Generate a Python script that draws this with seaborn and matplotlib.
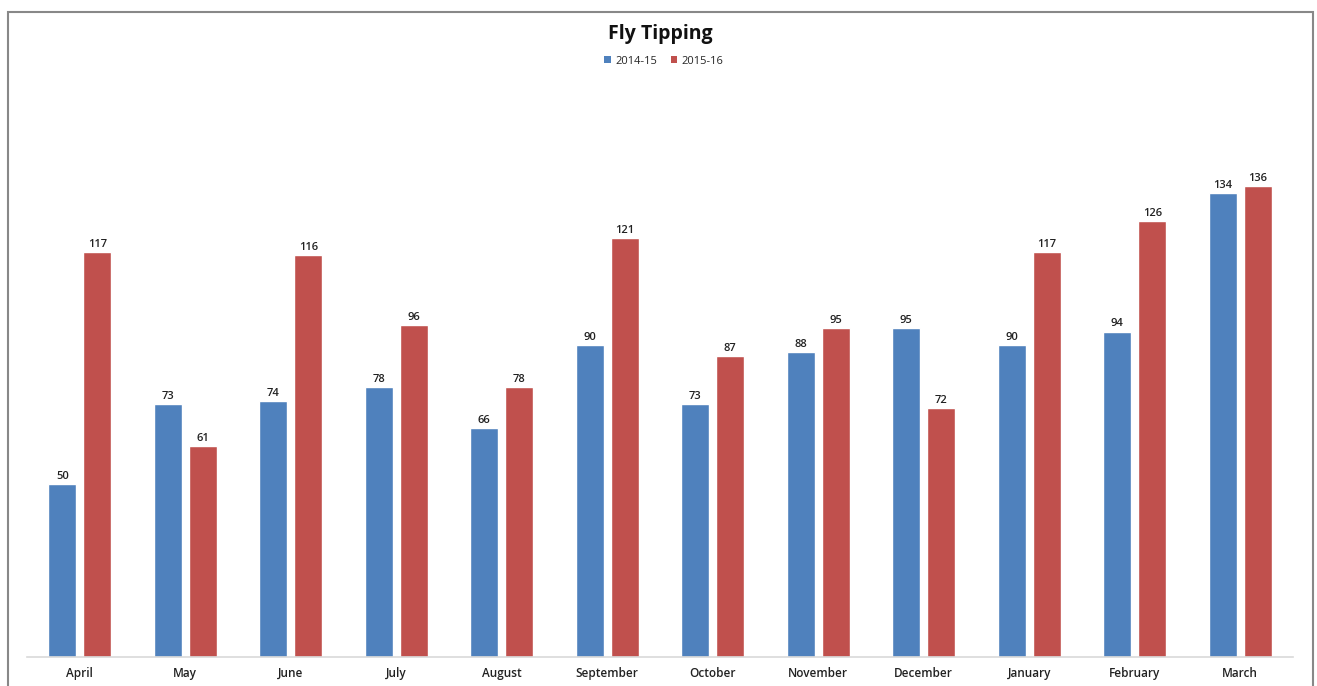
import matplotlib
matplotlib.use("Agg")
import matplotlib.pyplot as plt
import seaborn as sns
import pandas as pd
from matplotlib.patches import Rectangle, Patch

months = ["April", "May", "June", "July", "August", "September", "October",
          "November", "December", "January", "February", "March"]
series_names = ["2014-15", "2015-16"]
values_2014_15 = [50, 73, 74, 78, 66, 90, 73, 88, 95, 90, 94, 134]
values_2015_16 = [117, 61, 116, 96, 78, 121, 87, 95, 72, 117, 126, 136]
colors = ["#4F81BD", "#C0504D"]

df = pd.DataFrame({
    "Month": months * 2,
    "Year": [series_names[0]] * len(months) + [series_names[1]] * len(months),
    "Count": values_2014_15 + values_2015_16,
})

sns.set_style("white")
plt.rcParams["font.family"] = ["Open Sans", "DejaVu Sans"]

W, H = 1317, 686
fig = plt.figure(figsize=(W / 100, H / 100), dpi=100)
ax = fig.add_axes([27 / W, (H - 657) / H, (1293 - 27) / W, (657 - 103) / H])

sns.barplot(data=df, x="Month", y="Count", hue="Year", order=months,
            hue_order=series_names, palette=colors, width=0.664, gap=0.2,
            saturation=1, ax=ax, legend=False, errorbar=None)

ax.set_ylim(0, 160)
ax.set_xlim(-0.5, len(months) - 0.5)
ax.set_yticks([])
ax.set_xlabel("")
ax.set_ylabel("")
for s in ["top", "right", "left"]:
    ax.spines[s].set_visible(False)
ax.spines["bottom"].set_color("#D9D9D9")
ax.spines["bottom"].set_linewidth(1.2)
ax.tick_params(axis="x", length=0, pad=7, labelsize=8.5, colors="#222222")
for lab in ax.get_xticklabels():
    lab.set_fontweight("semibold")

for cont in ax.containers:
    ax.bar_label(cont, fmt="%d", padding=1.5, fontsize=8, color="#222222",
                 fontweight="semibold")

handles = [Patch(facecolor=c, edgecolor="none") for c in colors]
fig.legend(handles, series_names, loc="center", bbox_to_anchor=(664 / W, 1 - 61 / H),
           ncol=2, frameon=False, fontsize=8, handlelength=0.6, handleheight=0.6,
           handletextpad=0.4, columnspacing=1.2)

fig.text(660 / W, 1 - 34 / H, "Fly Tipping", ha="center", va="center",
         fontsize=14, fontweight="bold", color="#111111")

fig.patches.append(Rectangle((8 / W, -0.05), (1313 - 8) / W, 1.05 - 12 / H,
                             transform=fig.transFigure, fill=False,
                             edgecolor="#888888", linewidth=1.5))

fig.savefig("out.png", dpi=100)
